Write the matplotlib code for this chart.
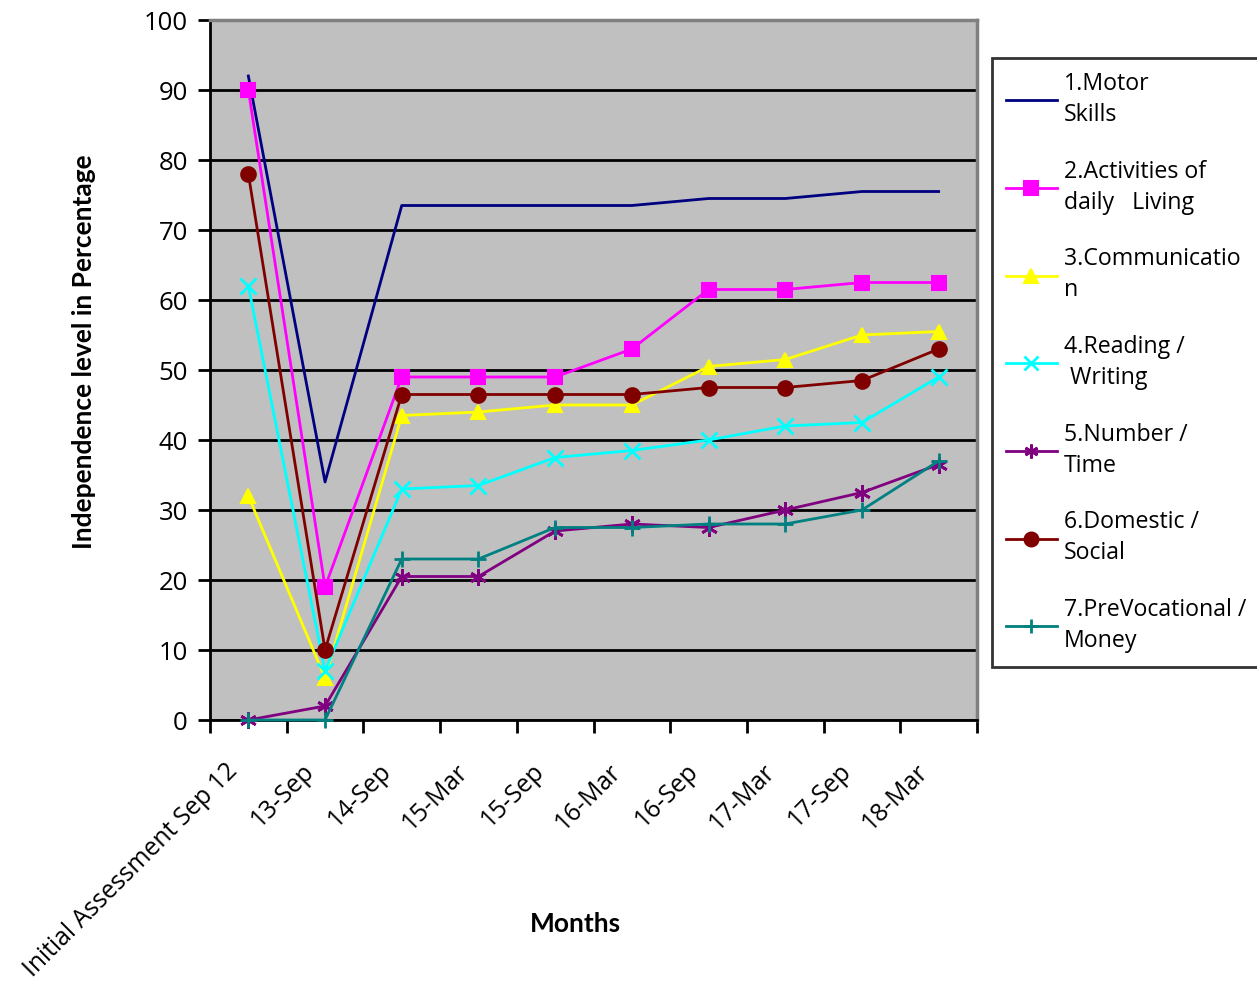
import matplotlib
matplotlib.use('Agg')
import matplotlib.pyplot as plt
from matplotlib.transforms import ScaledTranslation

plt.rcParams['font.family'] = ['Open Sans', 'DejaVu Sans']

months = ['Initial Assessment Sep 12', '13-Sep', '14-Sep', '15-Mar', '15-Sep',
          '16-Mar', '16-Sep', '17-Mar', '17-Sep', '18-Mar']

motor = [92, 34, 73.5, 73.5, 73.5, 73.5, 74.5, 74.5, 75.5, 75.5]
daily_living = [90, 19, 49, 49, 49, 53, 61.5, 61.5, 62.5, 62.5]
communication = [32, 6, 43.5, 44, 45, 45, 50.5, 51.5, 55, 55.5]
reading = [62, 7, 33, 33.5, 37.5, 38.5, 40, 42, 42.5, 49]
number_time = [0, 2, 20.5, 20.5, 27, 28, 27.5, 30, 32.5, 36.5]
domestic = [78, 10, 46.5, 46.5, 46.5, 46.5, 47.5, 47.5, 48.5, 53]
prevoc = [0, 0, 23, 23, 27.5, 27.5, 28, 28, 30, 37]

series = [
    ('1.Motor\nSkills', motor, '#000080', None),
    ('2.Activities of\ndaily   Living', daily_living, '#FF00FF', 's'),
    ('3.Communicatio\nn', communication, '#FFFF00', '^'),
    ('4.Reading /\n Writing', reading, '#00FFFF', 'x'),
    ('5.Number /\nTime', number_time, '#800080', (6, 2, 0)),
    ('6.Domestic /\nSocial', domestic, '#800000', 'o'),
    ('7.PreVocational /\nMoney', prevoc, '#008080', '+'),
]

fig = plt.figure(figsize=(12.57, 9.94), dpi=100)
ax = fig.add_axes([210 / 1257, 274 / 994, 767 / 1257, 700 / 994])
ax.set_facecolor('#C0C0C0')

x = list(range(len(months)))
for label, vals, color, marker in series:
    ms = 10.5
    mew = 1.5
    if marker in ('x', '+'):
        ms = 11
        mew = 2
    elif marker == (6, 2, 0):
        ms = 12
        mew = 2
    ax.plot(x, vals, color=color, lw=2, marker=marker, markersize=ms,
            markeredgewidth=mew, markerfacecolor=color, markeredgecolor=color,
            label=label, clip_on=False, zorder=3)

ax.set_xlim(-0.5, len(months) - 0.5)
ax.set_ylim(0, 100)
ax.set_yticks(range(0, 101, 10))
ax.set_axisbelow(True)
ax.yaxis.grid(True, color='black', lw=2)

# category labels, rotated, ending just left of each category centre
ax.set_xticks(x)
ax.set_xticklabels([])
ax.tick_params(axis='x', which='major', length=0)
shift = ScaledTranslation(-0.23, -0.39, fig.dpi_scale_trans)
for i, m in enumerate(months):
    ax.text(i, 0, m, transform=ax.get_xaxis_transform() + shift,
            rotation=45, ha='right', va='top', rotation_mode='anchor', fontsize=17.8)

ax.set_xticks([i - 0.5 for i in range(len(months) + 1)], minor=True)
ax.tick_params(axis='x', which='minor', length=9, width=2, direction='out')
ax.tick_params(axis='y', length=9, width=2, direction='out', labelsize=18.5, pad=7)

for side in ('left', 'bottom'):
    ax.spines[side].set_color('black')
    ax.spines[side].set_linewidth(2)
for side in ('top', 'right'):
    ax.spines[side].set_color('#808080')
    ax.spines[side].set_linewidth(2.5)

ax.set_xlabel('Months', fontsize=19, fontweight='bold', family=['Lato', 'DejaVu Sans'])
ax.set_ylabel('Independence level in Percentage', fontsize=19, fontweight='bold',
              family=['Lato', 'DejaVu Sans'])
ax.xaxis.set_label_coords(0.477, -0.274)
ax.yaxis.set_label_coords(-0.148, 0.526)

leg = fig.legend(loc='upper left', bbox_to_anchor=(992 / 1257, 1 - 58 / 994),
                 fontsize=16.7, frameon=True, fancybox=False, edgecolor='black',
                 handlelength=2.2, handletextpad=0.3, labelspacing=1.4,
                 borderpad=0.6, borderaxespad=0)
leg.get_frame().set_linewidth(2)
for t in leg.get_texts():
    t.set_linespacing(1.4)
for h in leg.legend_handles:
    h.set_markersize(10)

fig.savefig('out.png', dpi=100)
